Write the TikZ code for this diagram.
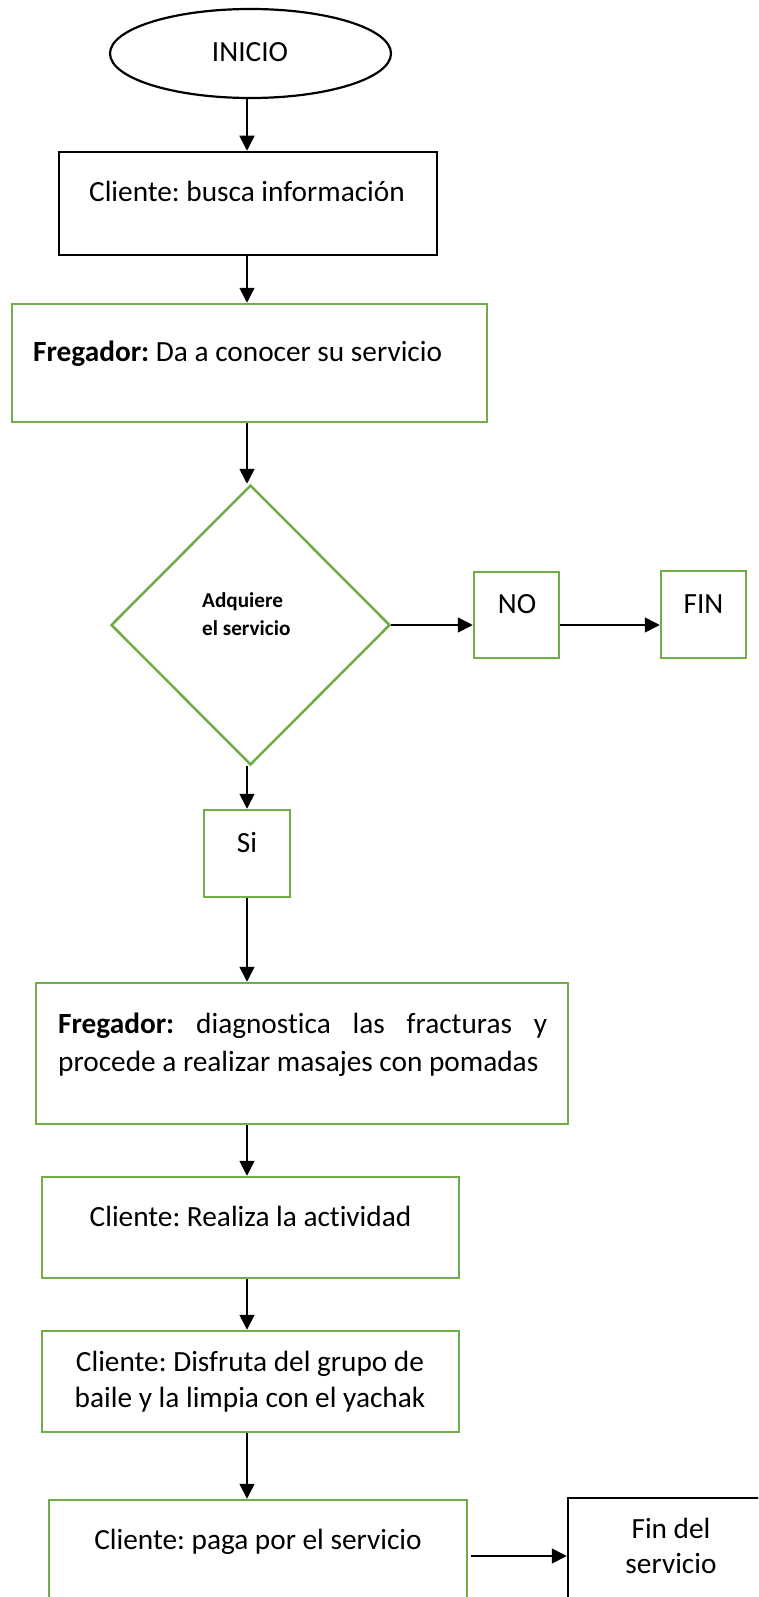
\documentclass[tikz,border=0pt]{standalone}
\usepackage{fontspec}
\setmainfont{Carlito}[Ligatures=NoCommon]
\usetikzlibrary{arrows.meta,shapes.geometric}
\definecolor{grn}{HTML}{70AD47}
\frenchspacing
\begin{document}
\begin{tikzpicture}[x=1pt,y=-1pt,
  gbox/.style={draw=grn,line width=2.5pt,rectangle,inner sep=0pt},
  kbox/.style={draw=black,line width=2.5pt,rectangle,inner sep=0pt},
  txt/.style={inner sep=0pt,anchor=base,font=\fontsize{29.3}{36}\selectfont},
  dtxt/.style={inner sep=0pt,anchor=base west,font=\bfseries\fontsize{21.2}{28}\selectfont},
  arr/.style={line width=1.6pt,-{Triangle[length=15pt,width=15pt]}}]
\useasboundingbox (0,0) rectangle (758,1597);
\clip (0,0) rectangle (758,1597);
\fill[white] (0,0) rectangle (758,1597);
\coordinate (col) at (247,0);
% shapes
\node[draw,ellipse,line width=2.2pt,minimum width=281pt,minimum height=89pt,inner sep=0pt] (ini) at (250.5,53.5) {};
\node[kbox,minimum width=378pt,minimum height=103pt] (b1) at (248,203.5) {};
\node[gbox,minimum width=475pt,minimum height=118pt] (b2) at (249.5,363) {};
\node[draw=grn,diamond,line width=2.5pt,minimum width=279pt,minimum height=280pt,inner sep=0pt] (dia) at (250.5,625) {};
\node[gbox,minimum width=85pt,minimum height=86pt] (no) at (516.5,615) {};
\node[gbox,minimum width=85pt,minimum height=87pt] (fin) at (703.5,614.5) {};
\node[gbox,minimum width=86pt,minimum height=87pt] (si) at (247,853.5) {};
\node[gbox,minimum width=532pt,minimum height=141pt] (f2) at (302,1053.5) {};
\node[gbox,minimum width=417pt,minimum height=101pt] (rea) at (250.5,1227.5) {};
\node[gbox,minimum width=417pt,minimum height=101pt] (dis) at (250.5,1381.5) {};
\node[gbox,minimum width=418pt,minimum height=140pt] (paga) at (258,1570) {};
\node[kbox,minimum width=212pt,minimum height=116pt] (fds) at (674,1556) {};
% texts
\node[txt] (tini) at (250,61.5) {INICIO};
\node[txt] (tb1) at (247,202) {Cliente: busca información};
\node[txt,anchor=base west] (tb2) at (33,361) {\textbf{Fregador:} Da a conocer su servicio};
\node[dtxt] (td1) at (202,607) {Adquiere};
\node[dtxt] (td2) at (202,635) {el servicio};
\node[txt] (tno) at (517,613) {NO};
\node[txt] (tfin) at (703.5,613) {FIN};
\node[txt] (tsi) at (247,852) {Si};
\node[txt,anchor=base west] (tf2a) at (58,1033) {\makebox[489pt][s]{\textbf{Fregador:} diagnostica las fracturas y}};
\node[txt,anchor=base west] (tf2b) at (58,1071) {procede a realizar masajes con pomadas};
\node[txt] (trea) at (250.5,1226.5) {Cliente: Realiza la actividad};
\node[txt] (tdis1) at (250,1371) {Cliente: Disfruta del grupo de};
\node[txt] (tdis2) at (250,1407) {baile y la limpia con el yachak};
\node[txt] (tpaga) at (258,1549) {Cliente: paga por el servicio};
\node[txt] (tfds1) at (671,1538) {Fin del};
\node[txt] (tfds2) at (671,1573.5) {servicio};
% connectors
\draw[arr] (ini.south -| col) -- (b1.north -| col);
\draw[arr] (b1.south -| col) -- (b2.north -| col);
\draw[arr] (b2.south -| col) -- (dia.north -| col);
\draw[arr] (dia.south -| col) -- (si.north -| col);
\draw[arr] (si.south -| col) -- (f2.north -| col);
\draw[arr] (f2.south -| col) -- (rea.north -| col);
\draw[arr] (rea.south -| col) -- (dis.north -| col);
\draw[arr] (dis.south -| col) -- (paga.north -| col);
\draw[arr] (dia.east) -- (dia.east -| no.west);
\draw[arr] (no.east |- dia.east) -- (dia.east -| fin.west);
\draw[arr] ([xshift=3pt]paga.east |- fds.west) -- (fds.west);
\end{tikzpicture}
\end{document}
